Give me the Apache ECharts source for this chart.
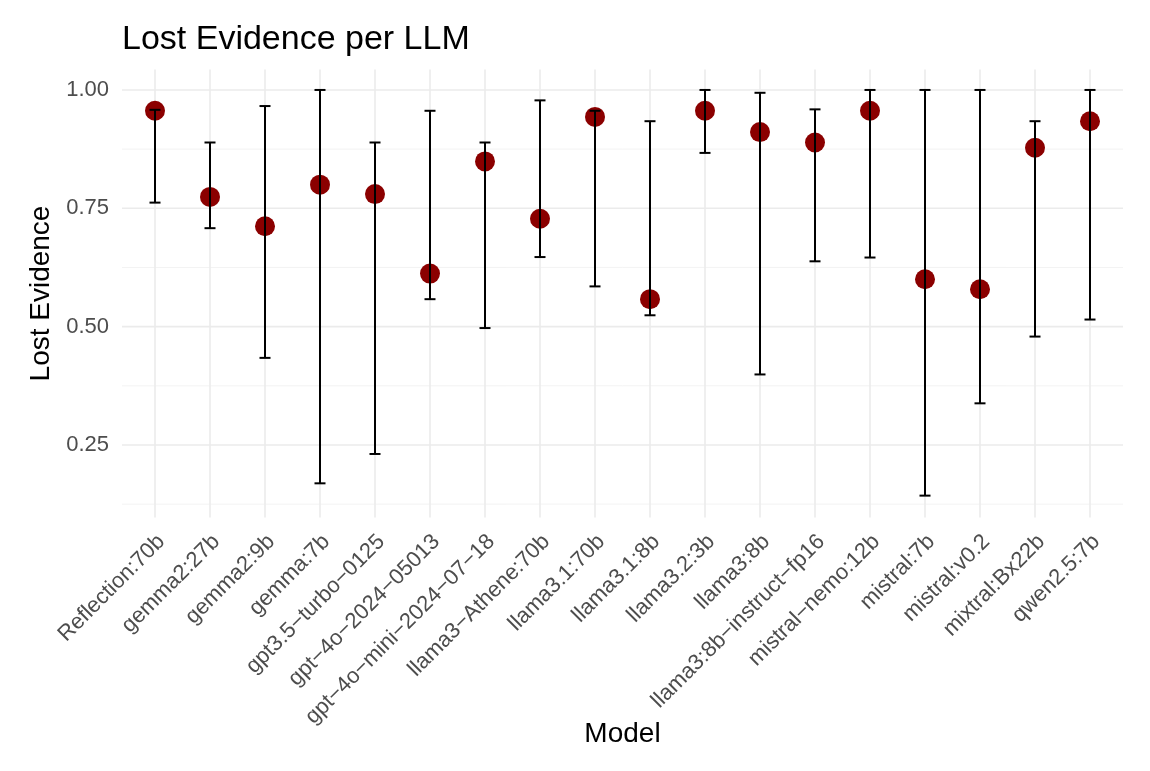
<!DOCTYPE html>
<html>
<head>
<meta charset="utf-8">
<script src="https://cdn.jsdelivr.net/npm/echarts@6/dist/echarts.min.js"></script>
<style>
  html, body { margin: 0; padding: 0; background: #fff; }
  #main { width: 1150px; height: 771px; }
</style>
</head>
<body>
<div id="main"></div>
<script>
// 模型名称（图中连字符显示为减号 −）
var models = ['Reflection:70b', 'gemma2:27b', 'gemma2:9b', 'gemma:7b', 'gpt3.5\u2212turbo\u22120125',
  'gpt\u22124o\u22122024\u221205013', 'gpt\u22124o\u2212mini\u22122024\u221207\u221218', 'llama3\u2212Athene:70b', 'llama3.1:70b',
  'llama3.1:8b', 'llama3.2:3b', 'llama3:8b', 'llama3:8b\u2212instruct\u2212fp16', 'mistral\u2212nemo:12b',
  'mistral:7b', 'mistral:v0.2', 'mixtral:Bx22b', 'qwen2.5:7b'];
// 均值和误差范围
var meanVals  = [0.956, 0.774, 0.712, 0.800, 0.780, 0.612, 0.849, 0.728, 0.943,
  0.558, 0.956, 0.911, 0.889, 0.956, 0.600, 0.579, 0.878, 0.934];
var lowerVals = [0.762, 0.708, 0.434, 0.169, 0.231, 0.558, 0.497, 0.647, 0.585,
  0.524, 0.867, 0.399, 0.638, 0.646, 0.143, 0.338, 0.479, 0.515];
var upperVals = [0.958, 0.889, 0.966, 1.000, 0.889, 0.956, 0.889, 0.978, 0.956,
  0.934, 1.000, 0.994, 0.959, 1.000, 1.000, 1.000, 0.934, 1.000];
// y轴刻度
var yMajor = [0.25, 0.50, 0.75, 1.00];
var yMinor = [0.125, 0.375, 0.625, 0.875];

var FONT = 'Liberation Sans, Arial, Helvetica, sans-serif';
var xIdx = models.map(function (m, i) { return i; });

var chart = echarts.init(document.getElementById('main'));

// 网格线
function hLine(width, color) {
  return function (params, api) {
    var v = api.value(0);
    var p1 = api.coord([-0.6, v]);
    var p2 = api.coord([17.6, v]);
    return { type: 'line', shape: { x1: p1[0], y1: p1[1], x2: p2[0], y2: p2[1] },
      style: { stroke: color, lineWidth: width }, silent: true };
  };
}
function vLine(params, api) {
  var x = api.value(0);
  var p1 = api.coord([x, 0.097]);
  var p2 = api.coord([x, 1.043]);
  return { type: 'line', shape: { x1: p1[0], y1: p1[1], x2: p2[0], y2: p2[1] },
    style: { stroke: '#ebebeb', lineWidth: 1.6 }, silent: true };
}

var option = {
  animation: false,
  backgroundColor: '#fff',
  title: {
    text: 'Lost Evidence per LLM',
    left: 122, top: 23, padding: 0,
    textStyle: { fontFamily: FONT, fontSize: 34, fontWeight: 'normal', color: '#000' }
  },
  grid: { left: 122, right: 27, top: 69.6, bottom: 253.6, outerBoundsMode: 'none' },
  xAxis: {
    type: 'value', min: -0.6, max: 17.6,
    name: 'Model', nameLocation: 'middle', nameGap: 203, nameMoveOverlap: false,
    nameTextStyle: { fontFamily: FONT, fontSize: 28, color: '#000' },
    axisLine: { show: false }, axisTick: { show: false }, splitLine: { show: false },
    axisLabel: {
      customValues: xIdx,
      rotate: 45, margin: 9, align: 'right', verticalAlign: 'top',
      padding: [2, 4, 0, 0],
      fontFamily: FONT, fontSize: 22, color: '#4d4d4d',
      formatter: function (v) { return models[Math.round(v)]; }
    }
  },
  yAxis: {
    type: 'value', min: 0.097, max: 1.043,
    name: 'Lost Evidence', nameLocation: 'middle', nameGap: 61,
    nameTextStyle: { fontFamily: FONT, fontSize: 28, color: '#000' },
    axisLine: { show: false }, axisTick: { show: false }, splitLine: { show: false },
    axisLabel: {
      customValues: yMajor, margin: 13,
      fontFamily: FONT, fontSize: 22, color: '#4d4d4d',
      formatter: function (v) { return v.toFixed(2); }
    }
  },
  series: [
    { type: 'custom', renderItem: hLine(0.9, '#f2f2f2'), data: yMinor.map(function (v) { return [v]; }), z: 1, silent: true },
    { type: 'custom', renderItem: hLine(1.6, '#ebebeb'), data: yMajor.map(function (v) { return [v]; }), z: 1, silent: true },
    { type: 'custom', renderItem: vLine, data: xIdx.map(function (i) { return [i]; }), z: 1, silent: true },
    {
      type: 'scatter', z: 3,
      symbolSize: 20,
      itemStyle: { color: '#8B0000', opacity: 1 },
      data: meanVals.map(function (v, i) { return [i, v]; })
    },
    {
      type: 'custom', z: 4,
      renderItem: function (params, api) {
        var x = api.value(0);
        var lo = api.coord([x, api.value(1)]);
        var hi = api.coord([x, api.value(2)]);
        var half = api.size([0.2, 0])[0] / 2;
        var st = { stroke: '#000', lineWidth: 2 };
        return {
          type: 'group',
          children: [
            { type: 'line', shape: { x1: lo[0], y1: lo[1], x2: hi[0], y2: hi[1] }, style: st },
            { type: 'line', shape: { x1: lo[0] - half, y1: lo[1], x2: lo[0] + half, y2: lo[1] }, style: st },
            { type: 'line', shape: { x1: hi[0] - half, y1: hi[1], x2: hi[0] + half, y2: hi[1] }, style: st }
          ]
        };
      },
      data: lowerVals.map(function (v, i) { return [i, v, upperVals[i]]; })
    }
  ]
};

chart.setOption(option);
</script>
</body>
</html>
